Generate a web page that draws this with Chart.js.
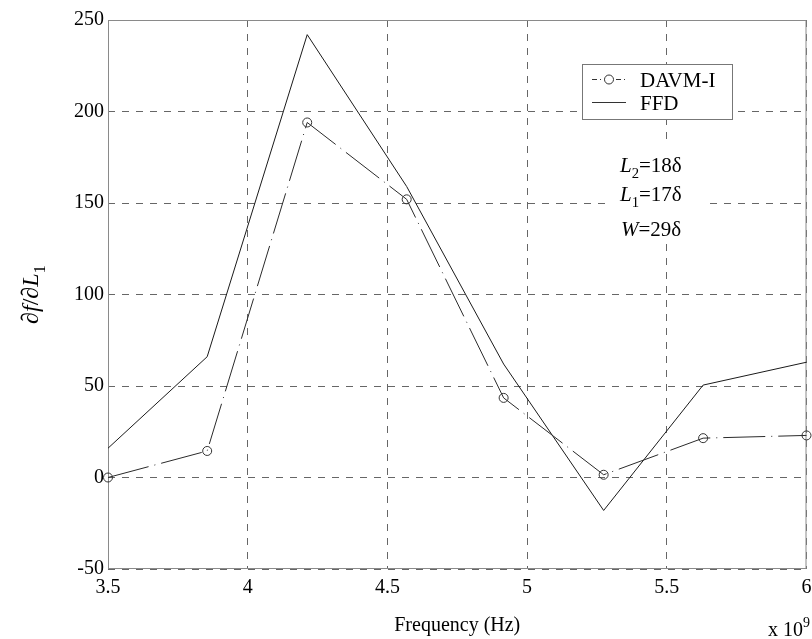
<!DOCTYPE html>
<html>
<head>
<meta charset="utf-8">
<script src="https://cdn.jsdelivr.net/npm/chart.js@4.4.1/dist/chart.umd.min.js"></script>
<style>
  html, body { margin: 0; padding: 0; background: #fff; }
  #wrap { width: 812px; height: 639px; }
</style>
</head>
<body>
<div id="wrap"><canvas id="sens-chart" width="812" height="639"></canvas></div>
<script>
// Frequency samples (x 1e9 Hz)
const freqGHz = [3.5, 3.855, 4.213, 4.569, 4.916, 5.274, 5.63, 6.0];
// df/dL1 from both methods
const davmValues = [0, 14.5, 194, 152, 43.5, 1.5, 21.5, 23];
const ffdValues = [16, 66, 242, 159, 62, -18, 50.5, 63];

const xTicks = [3.5, 4, 4.5, 5, 5.5, 6];
const yTicks = [-50, 0, 50, 100, 150, 200, 250];

const SERIF = '"Liberation Serif", "DejaVu Serif", serif';
const DAVM_DASH = [42, 6, 1, 6];

// Draw a run of text pieces (italic / subscript / superscript) left to right
function drawRich(ctx, parts, x, y, size, measureOnly) {
    let cx = x;
    parts.forEach(p => {
        const s = (p.sub || p.sup) ? size * 0.7 : size;
        ctx.font = (p.it ? 'italic ' : '') + s + 'px ' + SERIF;
        const dy = p.sub ? size * 0.3 : (p.sup ? -size * 0.45 : 0);
        if (!measureOnly) ctx.fillText(p.t, cx, y + dy);
        cx += ctx.measureText(p.t).width;
    });
    return cx - x;
}

const decorations = {
    id: 'decorations',
    beforeDatasetsDraw(chart) {
        const { ctx, chartArea: a } = chart;
        ctx.save();
        ctx.strokeStyle = '#8a8a8a';
        ctx.lineWidth = 1;
        ctx.strokeRect(a.left + 0.5, a.top + 0.5, a.right - a.left - 1, a.bottom - a.top - 1);
        ctx.restore();
    },
    afterDatasetsDraw(chart) {
        const { ctx, chartArea: a } = chart;
        ctx.save();
        ctx.fillStyle = '#000';
        ctx.textBaseline = 'alphabetic';

        // legend box
        ctx.fillStyle = '#fff';
        ctx.fillRect(582, 64, 150, 55);
        ctx.strokeStyle = '#777';
        ctx.lineWidth = 1;
        ctx.strokeRect(582.5, 64.5, 150, 55);

        ctx.strokeStyle = '#333';
        ctx.setLineDash([5, 3, 1, 3]);
        ctx.beginPath();
        ctx.moveTo(592, 79.5);
        ctx.lineTo(626, 79.5);
        ctx.stroke();
        ctx.setLineDash([]);
        ctx.beginPath();
        ctx.arc(609, 79.5, 4.5, 0, Math.PI * 2);
        ctx.fillStyle = '#fff';
        ctx.fill();
        ctx.stroke();
        ctx.beginPath();
        ctx.moveTo(592, 102.5);
        ctx.lineTo(626, 102.5);
        ctx.stroke();

        ctx.fillStyle = '#000';
        ctx.font = '21px ' + SERIF;
        ctx.fillText('DAVM-I', 640, 87);
        ctx.fillText('FFD', 640, 110);

        // parameter note
        ctx.fillStyle = '#fff';
        ctx.fillRect(612, 142, 96, 102);
        ctx.fillStyle = '#000';
        drawRich(ctx, [{ t: 'L', it: true }, { t: '2', sub: true }, { t: '=18δ' }], 620, 172, 21);
        drawRich(ctx, [{ t: 'L', it: true }, { t: '1', sub: true }, { t: '=17δ' }], 620, 201, 21);
        drawRich(ctx, [{ t: 'W', it: true }, { t: '=29δ' }], 621, 236, 21);

        // x axis title and exponent
        ctx.font = '20px ' + SERIF;
        ctx.textAlign = 'center';
        ctx.fillText('Frequency (Hz)', (a.left + a.right) / 2, 631);
        ctx.textAlign = 'left';
        drawRich(ctx, [{ t: 'x 10' }, { t: '9', sup: true }], 768, 636, 20);

        // y axis title, rotated
        const yParts = [{ t: '∂' }, { t: 'f', it: true }, { t: '/∂' }, { t: 'L', it: true }, { t: '1', sub: true }];
        const w = drawRich(ctx, yParts, 0, 0, 24, true);
        ctx.translate(38, (a.top + a.bottom) / 2);
        ctx.rotate(-Math.PI / 2);
        drawRich(ctx, yParts, -w / 2, 0, 24);
        ctx.restore();
    }
};

const ctx = document.getElementById('sens-chart').getContext('2d');
const sensChart = new Chart(ctx, {
    type: 'line',
    data: {
        datasets: [
            {
                label: 'DAVM-I',
                data: freqGHz.map((f, i) => ({ x: f, y: davmValues[i] })),
                borderColor: '#2a2a2a',
                borderWidth: 1,
                borderDash: DAVM_DASH,
                pointStyle: 'circle',
                pointRadius: 4.5,
                pointBorderWidth: 1,
                pointBorderColor: '#333',
                pointBackgroundColor: 'rgba(0,0,0,0)',
                tension: 0,
                clip: false
            },
            {
                label: 'FFD',
                data: freqGHz.map((f, i) => ({ x: f, y: ffdValues[i] })),
                borderColor: '#1a1a1a',
                borderWidth: 1,
                pointRadius: 0,
                tension: 0,
                clip: false
            }
        ]
    },
    options: {
        responsive: false,
        animation: false,
        events: [],
        layout: { padding: { top: 20, right: 1, left: 0, bottom: 0 } },
        plugins: {
            legend: { display: false },
            tooltip: { enabled: false }
        },
        scales: {
            x: {
                type: 'linear',
                min: 3.5,
                max: 6,
                afterBuildTicks: s => { s.ticks = xTicks.map(v => ({ value: v })); },
                afterFit: s => {
                    s.height = 70;
                    // let the "6" label run off the canvas edge
                    s.paddingLeft = 0;
                    s.paddingRight = 0;
                },
                grid: { color: '#666', lineWidth: 1, drawTicks: false },
                border: { display: false, dash: [7, 7] },
                ticks: {
                    color: '#000',
                    padding: 7,
                    maxRotation: 0,
                    autoSkip: false,
                    font: { family: SERIF, size: 20 },
                    callback: v => String(v)
                }
            },
            y: {
                type: 'linear',
                min: -50,
                max: 250,
                afterBuildTicks: s => { s.ticks = yTicks.map(v => ({ value: v })); },
                afterFit: s => { s.width = 108; },
                grid: { color: '#666', lineWidth: 1, drawTicks: false },
                border: { display: false, dash: [7, 7] },
                ticks: {
                    color: '#000',
                    padding: 4,
                    autoSkip: false,
                    font: { family: SERIF, size: 20 },
                    callback: v => String(v)
                }
            }
        }
    },
    plugins: [decorations]
});
</script>
</body>
</html>
